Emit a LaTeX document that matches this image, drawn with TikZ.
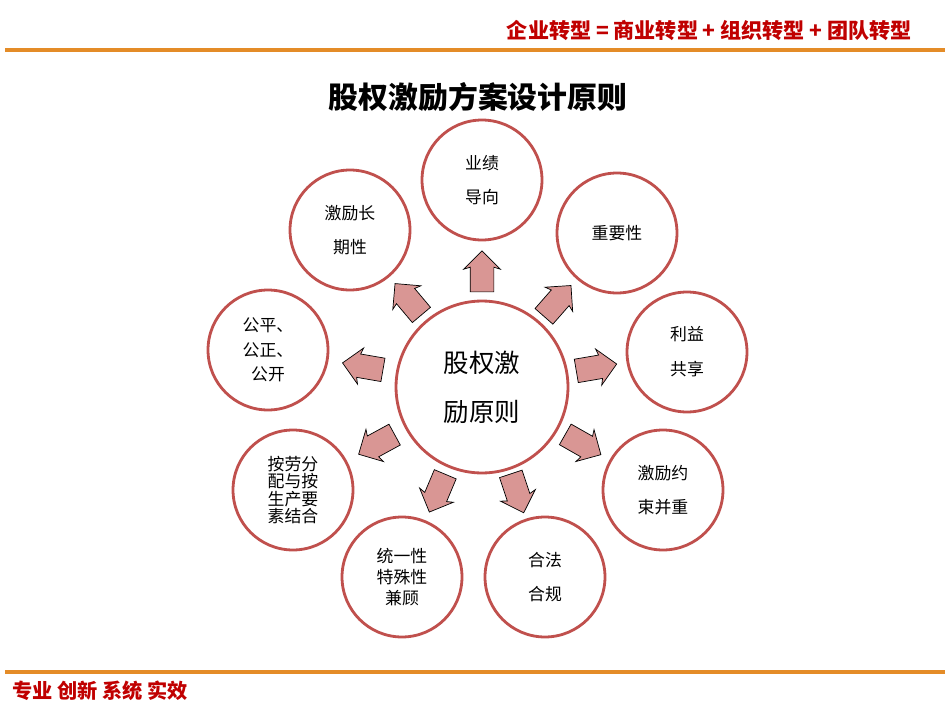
\documentclass[tikz,border=0pt]{standalone}
\usepackage{fontspec}
\setmainfont{Noto Sans CJK SC}
\usetikzlibrary{shapes.arrows,calc}

\definecolor{ringred}{RGB}{192,80,77}
\definecolor{arrowpink}{RGB}{217,150,148}
\definecolor{headred}{RGB}{192,0,0}
\definecolor{lineorange}{RGB}{228,140,40}

\begin{document}
\begin{tikzpicture}[x=0.02cm,y=-0.02cm]

  \tikzset{principle/.style={circle,draw=ringred,line width=1.6pt,fill=white,
      minimum size=2.4cm,inner sep=0pt,align=center,font=\fontsize{9.6}{12}\selectfont}}
  \tikzset{pointer/.style={single arrow,draw=black,line width=0.4pt,fill=arrowpink,
      minimum height=0.82cm,inner xsep=0pt,inner ysep=0.23cm,
      single arrow head extend=0.13cm,single arrow head indent=0.04cm}}

  \useasboundingbox (0,0) rectangle (950,713);

  % Header and footer
  \node[anchor=east,text=headred,font=\fontsize{12}{12}\selectfont\bfseries] (slogan) at (918,30)
    {企业转型 = 商业转型 + 组织转型 + 团队转型};
  \draw[line width=2pt,lineorange] (5,50) -- (945,50);
  \draw[line width=2pt,lineorange] (5,672) -- (945,672);
  \node[anchor=west,text=headred,font=\fontsize{11.5}{12}\selectfont\bfseries] (motto) at (6,691)
    {专业\ 创新\ 系统\ 实效};

  % Title
  \node[font=\fontsize{17}{20}\selectfont\bfseries] (title) at (478,97) {股权激励方案设计原则};

  % Centre
  \node[principle,minimum size=3.44cm,font=\fontsize{14.5}{28}\selectfont] (core) at (482,387)
    {股权激\\励原则};

  % Principles
  \node[principle,font=\fontsize{9.6}{19}\selectfont] (perf) at (482,180) {业绩\\导向};
  \node[principle] (weight) at (617,233) {重要性};
  \node[principle,font=\fontsize{9.6}{20}\selectfont] (share) at (687,352) {利益\\共享};
  \node[principle,font=\fontsize{9.6}{19}\selectfont] (balance) at (663,490) {激励约\\束并重};
  \node[principle,font=\fontsize{9.6}{19}\selectfont] (legal) at (545,577) {合法\\合规};
  \node[principle,font=\fontsize{9.6}{12}\selectfont] (unity) at (402,577) {统一性\\特殊性\\兼顾};
  \node[principle,font=\fontsize{9.6}{10}\selectfont] (labour) at (293,490) {按劳分\\配与按\\生产要\\素结合};
  \node[principle,font=\fontsize{9.6}{14}\selectfont] (fair) at (268,350) {公平、\\公正、\\公开};
  \node[principle,font=\fontsize{9.6}{19}\selectfont] (longterm) at (350,230) {激励长\\期性};

  % Arrows from the centre
  \foreach \target in {perf,weight,share,balance,legal,unity,labour,fair,longterm}
    \path let \p1=($(\target)-(core)$), \n1={atan2(\y1,\x1)} in
      node[pointer,rotate=\n1] at ($(core)!0.53!(\target)$) {};

\end{tikzpicture}
\end{document}
